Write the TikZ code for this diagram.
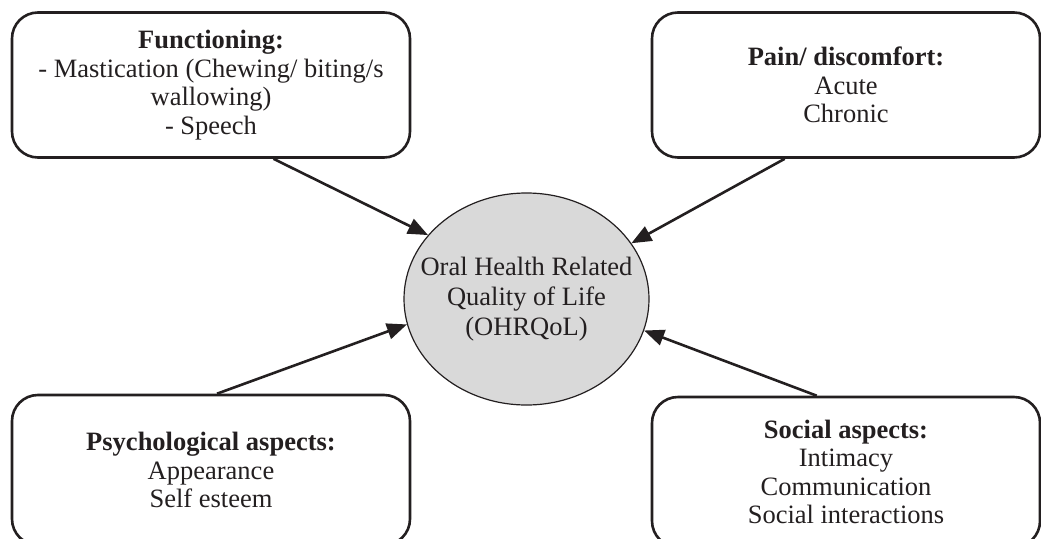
\documentclass[tikz,border=0pt]{standalone}
\usepackage{fontspec}
\setmainfont{Liberation Serif}
\usetikzlibrary{arrows.meta,calc,shapes.geometric}
\definecolor{ink}{HTML}{231F20}
\definecolor{ovalfill}{HTML}{D9D9D9}
\begin{document}
\begin{tikzpicture}[x=1pt,y=-1pt,
  box/.style={draw=ink, line width=2.6pt, rounded corners=26pt, align=center,
    font=\fontsize{26.5}{28.5}\selectfont, text=ink, inner sep=0pt},
  oval/.style={draw=ink, line width=1.2pt, ellipse, fill=ovalfill,
    minimum width=245pt, minimum height=212pt, inner sep=0pt},
  ovaltext/.style={align=center, inner sep=0pt,
    font=\fontsize{26.5}{30}\selectfont, text=ink},
  arr/.style={draw=ink, line width=2.6pt, -{Triangle[length=20pt,width=16pt]}}]
\useasboundingbox (0,0) rectangle (1041,538);
\node[box, minimum width=398pt, minimum height=145pt] (f) at (211,85)
  {\textbf{Functioning:}\\- Mastication (Chewing/ biting/s\\wallowing)\\- Speech};
\node[box, minimum width=388pt, minimum height=145pt] (p) at (846,85)
  {\textbf{Pain/ discomfort:}\\Acute\\Chronic};
\node[box, minimum width=398pt, minimum height=150pt] (ps) at (211,470)
  {\textbf{Psychological aspects:}\\Appearance\\Self esteem};
\node[box, minimum width=388pt, minimum height=150pt] (s) at (846,472)
  {\textbf{Social aspects:}\\Intimacy\\Communication\\Social interactions};
\node[oval] (o) at (526.5,299) {};
\node[ovaltext] (ot) at (o.center) {Oral Health Related\\Quality of Life\\(OHRQoL)};
\draw[arr] ($(f.south west)!0.656!(f.south east)$) -- (o.147);
\draw[arr] ($(p.south west)!0.343!(p.south east)$) -- (o.28);
\draw[arr] ($(ps.north west)!0.515!(ps.north east)$) -- (o.192);
\draw[arr] ($(s.north west)!0.425!(s.north east)$) -- (o.345);
\end{tikzpicture}
\end{document}
